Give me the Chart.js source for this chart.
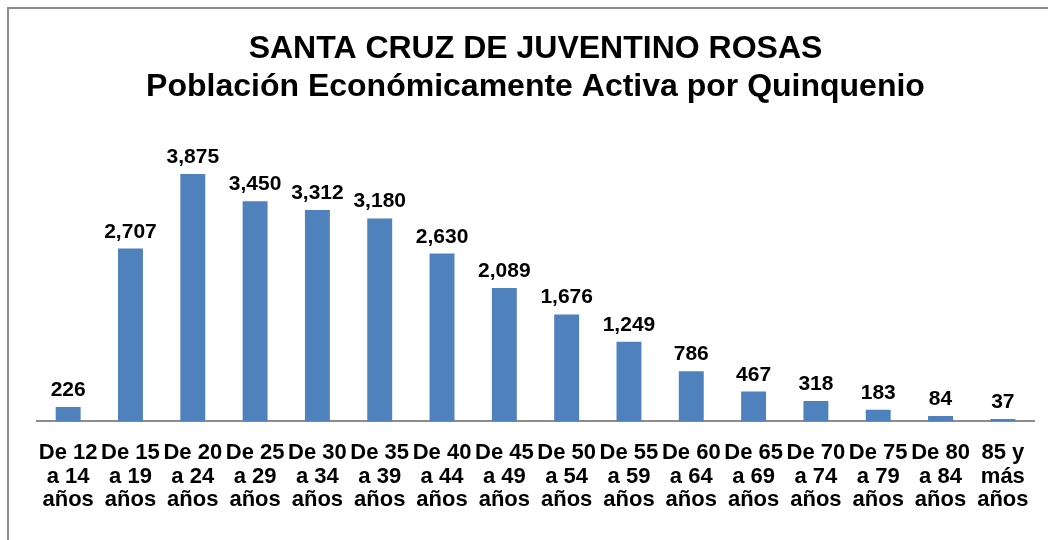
<!DOCTYPE html>
<html>
<head>
<meta charset="utf-8">
<script src="https://cdn.jsdelivr.net/npm/chart.js"></script>
<style>
  html, body { margin: 0; padding: 0; background: #fff; overflow: hidden; }
  #box { position: absolute; left: 7px; top: 7px; width: 1070px; height: 560px;
         border-left: 2px solid #8c8c8c; border-top: 2px solid #8c8c8c; }
  #myChart { position: absolute; left: 0; top: 0; }
</style>
</head>
<body>
<div id="box"><canvas id="myChart" width="1060" height="531"></canvas></div>
<script>
var edades = [
    ['De 12', 'a 14', 'años'], ['De 15', 'a 19', 'años'], ['De 20', 'a 24', 'años'],
    ['De 25', 'a 29', 'años'], ['De 30', 'a 34', 'años'], ['De 35', 'a 39', 'años'],
    ['De 40', 'a 44', 'años'], ['De 45', 'a 49', 'años'], ['De 50', 'a 54', 'años'],
    ['De 55', 'a 59', 'años'], ['De 60', 'a 64', 'años'], ['De 65', 'a 69', 'años'],
    ['De 70', 'a 74', 'años'], ['De 75', 'a 79', 'años'], ['De 80', 'a 84', 'años'],
    ['85 y', 'más', 'años']
];
var poblacion = [226, 2707, 3875, 3450, 3312, 3180, 2630, 2089, 1676, 1249, 786, 467, 318, 183, 84, 37];
var titulo = ['SANTA CRUZ DE JUVENTINO ROSAS', 'Población Económicamente Activa por Quinquenio'];

// numbers above the bars
var etiquetas = {
    id: 'etiquetas',
    afterDatasetsDraw: function(chart) {
        var ctx = chart.ctx;
        var meta = chart.getDatasetMeta(0);
        ctx.save();
        ctx.font = 'bold 21px "Liberation Sans", Arial, sans-serif';
        ctx.fillStyle = '#000';
        ctx.textAlign = 'center';
        ctx.textBaseline = 'alphabetic';
        for (var i = 0; i < meta.data.length; i++) {
            var bar = meta.data[i];
            ctx.fillText(poblacion[i].toLocaleString('en-US'), bar.x, bar.y - 11);
        }
        ctx.restore();
    }
};

var ctx = document.getElementById('myChart').getContext('2d');
var myChart = new Chart(ctx, {
    type: 'bar',
    data: {
        labels: edades,
        datasets: [{
            data: poblacion,
            backgroundColor: '#4f81bd',
            barPercentage: 0.4,
            categoryPercentage: 1
        }]
    },
    options: {
        responsive: false,
        animation: false,
        layout: { padding: { left: 28, right: 35, top: 21, bottom: 16 } },
        plugins: {
            legend: { display: false },
            tooltip: { enabled: false },
            title: {
                display: true,
                text: titulo,
                color: '#000',
                font: { family: '"Liberation Sans", Arial, sans-serif', size: 32, weight: 'bold', lineHeight: 1.19 },
                padding: { top: 0, bottom: 28 }
            }
        },
        scales: {
            x: {
                grid: { display: false },
                border: { display: true, color: '#8c8c8c', width: 2 },
                ticks: {
                    color: '#000',
                    maxRotation: 0,
                    autoSkip: false,
                    padding: 12,
                    font: { family: '"Liberation Sans", Arial, sans-serif', size: 22, weight: 'bold', lineHeight: 1.07 }
                }
            },
            y: {
                display: false,
                min: 0,
                max: 4500
            }
        }
    },
    plugins: [etiquetas]
});
</script>
</body>
</html>
